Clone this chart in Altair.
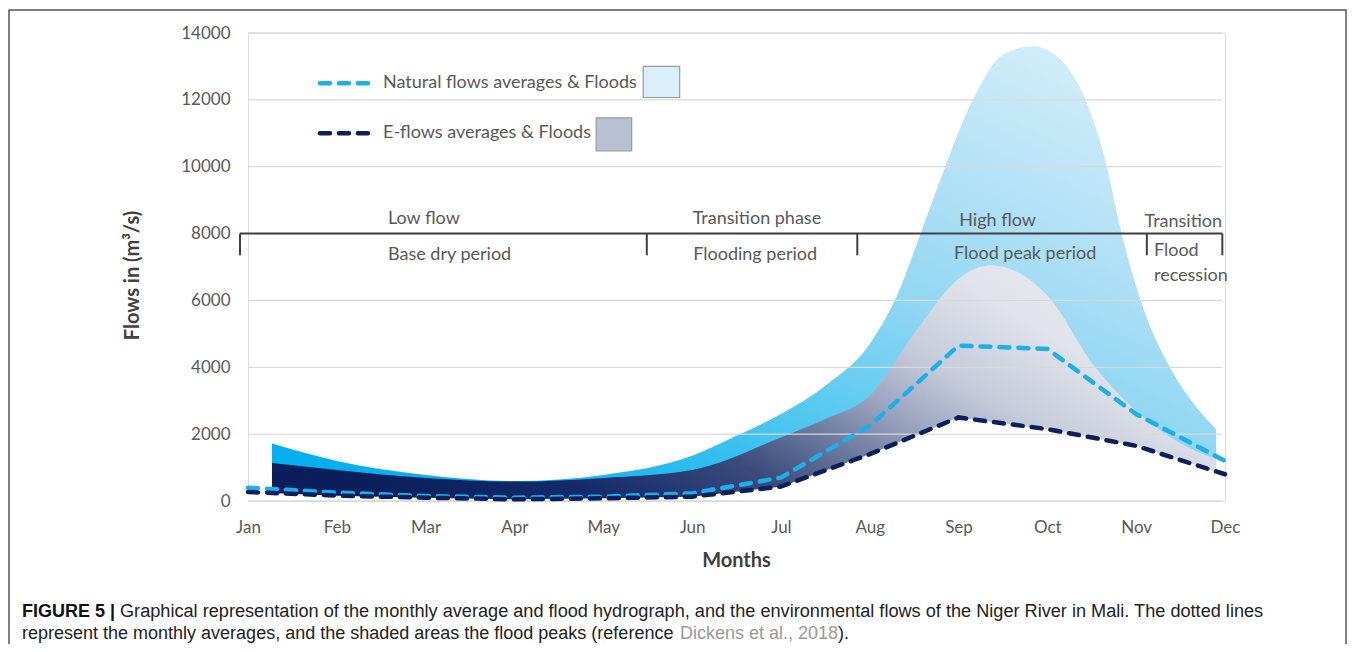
import altair as alt
import pandas as pd

# ---------------- data ----------------
months = ["Jan", "Feb", "Mar", "Apr", "May", "Jun", "Jul", "Aug", "Sep", "Oct", "Nov", "Dec"]
month_idx = list(range(12))
natural_avg = [400, 250, 150, 100, 130, 230, 700, 2250, 4650, 4550, 2600, 1200]
eflow_avg = [270, 160, 100, 50, 80, 130, 430, 1400, 2500, 2150, 1650, 800]

# flood envelopes (month position, flow)
nat_flood_m = [0.27, 1.0, 2.0, 3.0, 4.0, 5.0, 5.5, 6.0, 6.5, 7.0, 7.3, 7.6, 7.85, 8.16, 8.5,
               8.84, 9.15, 9.43, 9.67, 9.8, 10.05, 10.38, 10.65, 10.9]
nat_flood_v = [1720, 1200, 780, 600, 780, 1350, 1950, 2600, 3450, 4700, 6100, 8200, 10000, 12000,
               13350, 13600, 13200, 12000, 10000, 8400, 6000, 4000, 2900, 2150]
ef_flood_m = [0.27, 1.0, 2.0, 3.0, 4.0, 5.0, 6.0, 6.5, 7.0, 7.5, 8.0, 8.36, 8.7, 9.0, 9.54,
              10.0, 10.45, 10.9]
ef_flood_v = [1140, 930, 690, 580, 690, 930, 1900, 2450, 3150, 5000, 6650, 7050, 6800, 6150, 4000,
              2700, 1800, 1250]

y_ticks = [0, 2000, 4000, 6000, 8000, 10000, 12000, 14000]

# phase bracket
bracket_start, bracket_end, bracket_top, bracket_tick_end = -0.09, 10.97, 8000, 7350
bracket_ticks = [-0.09, 4.49, 6.86, 10.12, 10.97]
phase_top_labels = ["Low flow", "Transition phase", "High flow", "Transition"]
phase_top_m = [1.98, 5.73, 8.44, 10.53]
phase_top_v = [8450, 8450, 8390, 8360]
phase_bot_labels = ["Base dry period", "Flooding period", "Flood peak period"]
phase_bot_m = [2.27, 5.71, 8.75]
phase_bot_v = [7360, 7360, 7390]
recession_labels = ["Flood", "recession"]
recession_m = [10.2, 10.2]
recession_v = [7480, 6730]

legend_labels = ["Natural flows averages & Floods", "E-flows averages & Floods"]

# ---------------- styling ----------------
W, H = 977, 468
FONT = "Lato"
TXT = "#595959"
CYAN_LINE = "#1ab0ea"
NAVY_LINE = "#0c1f5b"

xs = alt.Scale(domain=[0, 11], nice=False, zero=False)
ys = alt.Scale(domain=[0, 14000], nice=False)

label_expr = "[" + ",".join("'%s'" % m for m in months) + "][datum.value]"
x_axis = alt.Axis(values=month_idx, labelExpr=label_expr, grid=False, domain=False, ticks=False,
                  tickSize=0, labelPadding=26, labelBaseline="middle", labelFontSize=17,
                  labelFont=FONT, labelColor=TXT, title="Months", titleFont=FONT,
                  titleFontSize=20, titleFontWeight="bold", titleColor="#404040",
                  titleX=488, titleY=59, titleBaseline="middle", titleAlign="center",
                  labelFlush=False, labelOverlap=False)
y_axis = alt.Axis(values=y_ticks, format="d", grid=False, domain=False, ticks=False, tickSize=0,
                  labelPadding=18, labelFontSize=17, labelFont=FONT, labelColor=TXT,
                  title="Flows in (m\u00b3/s)", titleFont=FONT, titleFontSize=20,
                  titleFontWeight="bold", titleColor="#404040", titleAngle=-90,
                  titleX=-116, titleY=242, titleAlign="center", titleBaseline="middle",
                  labelOverlap=False)


def X(f="m"):
    return alt.X(f + ":Q", scale=xs, axis=x_axis)


def Y(f="v"):
    return alt.Y(f + ":Q", scale=ys, axis=y_axis)


avg_df = pd.DataFrame({"m": month_idx, "natural": natural_avg, "eflow": eflow_avg})
nat_df = pd.DataFrame({"m": nat_flood_m, "v": nat_flood_v})
ef_df = pd.DataFrame({"m": ef_flood_m, "v": ef_flood_v})
grid_df = pd.DataFrame({"v": y_ticks})

cyan_grad = alt.LinearGradient(
    gradient="linear",
    stops=[alt.GradientStop(color="#00aeef", offset=0),
           alt.GradientStop(color="#0cb1ee", offset=0.15),
           alt.GradientStop(color="#38c0ef", offset=0.3),
           alt.GradientStop(color="#62ccf1", offset=0.42),
           alt.GradientStop(color="#92d7f3", offset=0.56),
           alt.GradientStop(color="#afe0f5", offset=0.7),
           alt.GradientStop(color="#cdebf8", offset=0.88),
           alt.GradientStop(color="#d8f0fa", offset=1)],
    x1=0, y1=1, x2=1, y2=0)

navy_grad = alt.LinearGradient(
    gradient="linear",
    stops=[alt.GradientStop(color="#0a1e5b", offset=0),
           alt.GradientStop(color="#142a6a", offset=0.2),
           alt.GradientStop(color="#3a4b7b", offset=0.38),
           alt.GradientStop(color="#6f7ca0", offset=0.5),
           alt.GradientStop(color="#9ea7c1", offset=0.6),
           alt.GradientStop(color="#c6cbdb", offset=0.7),
           alt.GradientStop(color="#e0e3eb", offset=0.85),
           alt.GradientStop(color="#e8eaf0", offset=1)],
    x1=0, y1=0.7, x2=1, y2=0.3)

nat_area = alt.Chart(nat_df).mark_area(color=cyan_grad, interpolate="monotone").encode(x=X(), y=Y())
ef_area = alt.Chart(ef_df).mark_area(color=navy_grad, interpolate="monotone").encode(x=X(), y=Y())
mask = alt.Chart(avg_df).mark_area(color="white").encode(x=X(), y=Y("eflow"))

grid = alt.Chart(grid_df).mark_rule(color="#d9d9d9", strokeWidth=1.3).encode(
    y=Y(), x=alt.value(0), x2=alt.value(W - 3))

dash = dict(strokeDash=[10, 9], strokeCap="round", strokeWidth=4.5)
nat_line = alt.Chart(avg_df).mark_line(color=CYAN_LINE, **dash).encode(x=X(), y=Y("natural"))
ef_line = alt.Chart(avg_df).mark_line(color=NAVY_LINE, **dash).encode(x=X(), y=Y("eflow"))

# bracket
br_h = alt.Chart(pd.DataFrame({"m": [bracket_start], "m2": [bracket_end], "v": [bracket_top]})).mark_rule(
    color="#404040", strokeWidth=2).encode(x=X(), x2="m2:Q", y=Y())
br_t = alt.Chart(pd.DataFrame({"m": bracket_ticks, "v": [bracket_top] * 5,
                               "v2": [bracket_tick_end] * 5})).mark_rule(
    color="#404040", strokeWidth=2).encode(x=X(), y=Y(), y2="v2:Q")

txt_kw = dict(font=FONT, fontSize=18, color=TXT, baseline="middle")
top_txt = alt.Chart(pd.DataFrame({"m": phase_top_m, "v": phase_top_v, "t": phase_top_labels})).mark_text(
    align="center", **txt_kw).encode(x=X(), y=Y(), text="t:N")
bot_txt = alt.Chart(pd.DataFrame({"m": phase_bot_m, "v": phase_bot_v, "t": phase_bot_labels})).mark_text(
    align="center", **txt_kw).encode(x=X(), y=Y(), text="t:N")
rec_txt = alt.Chart(pd.DataFrame({"m": recession_m, "v": recession_v, "t": recession_labels})).mark_text(
    align="left", **txt_kw).encode(x=X(), y=Y(), text="t:N")

# legend (in data units)
leg_lines = pd.DataFrame({"m": [0.81, 1.40, 0.81, 1.40], "v": [12500, 12500, 11000, 11000],
                          "s": ["nat", "nat", "ef", "ef"]})
leg_nat = alt.Chart(leg_lines[leg_lines.s == "nat"]).mark_line(color=CYAN_LINE, **dash).encode(x=X(), y=Y())
leg_ef = alt.Chart(leg_lines[leg_lines.s == "ef"]).mark_line(color=NAVY_LINE, **dash).encode(x=X(), y=Y())
leg_txt = alt.Chart(pd.DataFrame({"m": [1.52, 1.52], "v": [12500, 11000], "t": legend_labels})).mark_text(
    align="left", **txt_kw).encode(x=X(), y=Y(), text="t:N")
leg_box1 = alt.Chart(pd.DataFrame({"m": [4.45], "m2": [4.86], "v": [13000], "v2": [12070]})).mark_rect(
    fill="#dbeffa", stroke="#9a9a9a", strokeWidth=1.2).encode(x=X(), x2="m2:Q", y=Y(), y2="v2:Q")
leg_box2 = alt.Chart(pd.DataFrame({"m": [3.92], "m2": [4.32], "v": [11460], "v2": [10470]})).mark_rect(
    fill="#b9c0d3", stroke="#9a9a9a", strokeWidth=1.2).encode(x=X(), x2="m2:Q", y=Y(), y2="v2:Q")

# caption & frame (pixel placed)
one = pd.DataFrame({"k": [0]})
cap_kw = dict(font="Liberation Sans", fontSize=18, baseline="middle", align="left")
cap1b = alt.Chart(one).mark_text(fontWeight="bold", color="#111111", **cap_kw).encode(
    x=alt.value(-226), y=alt.value(579), text=alt.value("FIGURE 5 |"))
cap1 = alt.Chart(one).mark_text(color="#222222", font="Liberation Sans", fontSize=18.15,
                                baseline="middle", align="left").encode(
    x=alt.value(-128), y=alt.value(579),
    text=alt.value("Graphical representation of the monthly average and flood hydrograph, and the "
                   "environmental flows of the Niger River in Mali. The dotted lines"))
cap2 = alt.Chart(one).mark_text(color="#222222", **cap_kw).encode(
    x=alt.value(-226), y=alt.value(601),
    text=alt.value("represent the monthly averages, and the shaded areas the flood peaks (reference"))
cap2g = alt.Chart(one).mark_text(color="#9a9a9a", **cap_kw).encode(
    x=alt.value(432), y=alt.value(601), text=alt.value("Dickens et al., 2018"))
cap2e = alt.Chart(one).mark_text(color="#222222", **cap_kw).encode(
    x=alt.value(590), y=alt.value(601), text=alt.value(")."))
frame = alt.Chart(one).mark_rect(fill="transparent", stroke="#555555", strokeWidth=1.5).encode(
    x=alt.value(-239), x2=alt.value(1098), y=alt.value(-23), y2=alt.value(700))

chart = alt.layer(
    nat_area, ef_area, mask, grid, nat_line, ef_line, br_h, br_t, top_txt, bot_txt, rec_txt,
    leg_nat, leg_ef, leg_txt, leg_box1, leg_box2, cap1b, cap1, cap2, cap2g, cap2e, frame
).properties(
    width=W, height=H,
    autosize=alt.AutoSizeParams(type="none"),
    padding={"left": 240, "top": 25, "right": 123, "bottom": 143},
).configure_view(stroke=None).configure(background="white")

chart.save("out.html", embed_options={"renderer": "svg", "actions": False})
